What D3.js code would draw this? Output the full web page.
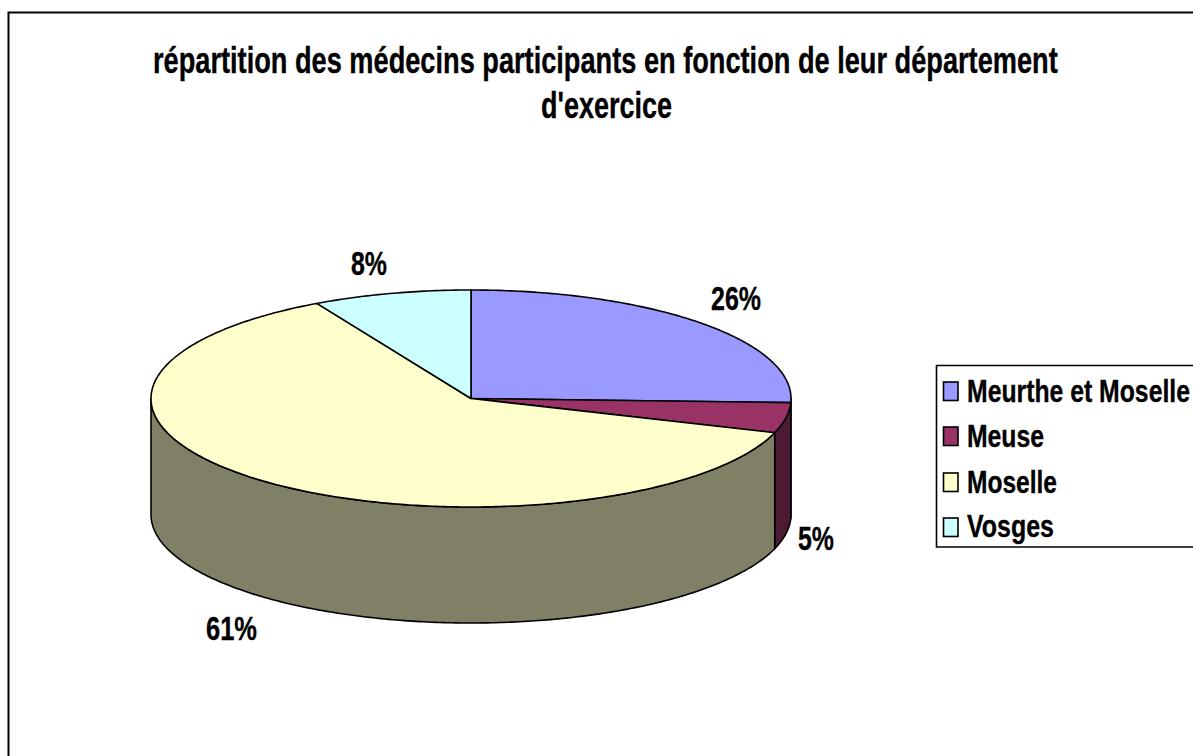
<!DOCTYPE html>
<html><head><meta charset="utf-8">
<script src="https://cdn.jsdelivr.net/npm/d3@7/dist/d3.min.js"></script>
<style>html,body{margin:0;padding:0;background:#fff;overflow:hidden}svg{display:block}
text{font-family:"Liberation Sans",Arial,sans-serif;font-weight:bold;fill:#000;stroke:#000;stroke-width:.35px}</style>
</head><body><svg id="c" width="1193" height="756"></svg>
<script>
const categories = ["Meurthe et Moselle","Meuse","Moselle","Vosges"];
const values = [25.6,4.5,61.9,8.0];
const sliceLabels = ["26%","5%","61%","8%"];
const colors = ["#9999FF","#993366","#FFFFCC","#CCFFFF"];
const wallColors = ["#4D4D80","#4D1A33","#808066","#668080"];
const titleLines = ["répartition des médecins participants en fonction de leur département","d'exercice"];

const svg = d3.select("#c");
// draws text at a left edge/baseline, condensed horizontally to the wanted width
function fitted(t,x,y,w,size){
  const n=svg.append("text").text(t).attr("font-size",size);
  const k=w/n.node().getComputedTextLength();
  n.attr("transform",`translate(${x},${y}) scale(${k},1)`);
}
// frame
svg.append("path").attr("d","M8.5,756V12.5H1193").attr("fill","none").attr("stroke","#000").attr("stroke-width",2);
// title
fitted(titleLines[0],153,72.5,905,36);
fitted(titleLines[1],541,118,131,36);

// pie
const cx=471, cy=398.5, rx=320, ry=108.5, depth=116;
const arcs=d3.pie().sort(null)(values);
const X=a=>cx+rx*Math.sin(a), Y=a=>cy-ry*Math.cos(a);
const line=d3.line();
const sample=(a0,a1)=>{const n=Math.max(2,Math.ceil(Math.abs(a1-a0)*80));return d3.range(n+1).map(i=>a0+(a1-a0)*i/n);};
const HALF=Math.PI/2, END=Math.PI*1.5;
// side walls (only the front half of the ellipse is visible)
arcs.forEach((d,i)=>{
  const a0=Math.max(d.startAngle,HALF), a1=Math.min(d.endAngle,END);
  if(a1<=a0) return;
  const top=sample(a0,a1).map(a=>[X(a),Y(a)]);
  const bot=sample(a1,a0).map(a=>[X(a),Y(a)+depth]);
  svg.append("path").attr("d",line(top.concat(bot))+"Z").attr("fill",wallColors[i]).attr("stroke","#000").attr("stroke-width",1.6).attr("stroke-linejoin","round");
});
// top faces
arcs.forEach((d,i)=>{
  const pts=[[cx,cy]].concat(sample(d.startAngle,d.endAngle).map(a=>[X(a),Y(a)]));
  svg.append("path").attr("d",line(pts)+"Z").attr("fill",colors[i]).attr("stroke","#000").attr("stroke-width",1.6).attr("stroke-linejoin","round");
});
// slice labels
const labelGeom=[{x:711,y:310,w:50},{x:798,y:550,w:36},{x:206,y:640,w:51},{x:351,y:275,w:36}];
sliceLabels.forEach((t,i)=>fitted(t,labelGeom[i].x,labelGeom[i].y,labelGeom[i].w,33));

// legend
svg.append("path").attr("d","M1193,365.5H936.5V547H1193").attr("fill","none").attr("stroke","#000").attr("stroke-width",1.6);
const legendTop=[382,427,473,518], legendW=[223,77,90,87], legendBase=[402,447,493,537];
categories.forEach((c,i)=>{
  svg.append("rect").attr("x",943.5).attr("y",legendTop[i]).attr("width",14.5).attr("height",18.5)
    .attr("fill",colors[i]).attr("stroke","#000").attr("stroke-width",1.6);
  fitted(c,967,legendBase[i],legendW[i],32);
});
</script></body></html>
